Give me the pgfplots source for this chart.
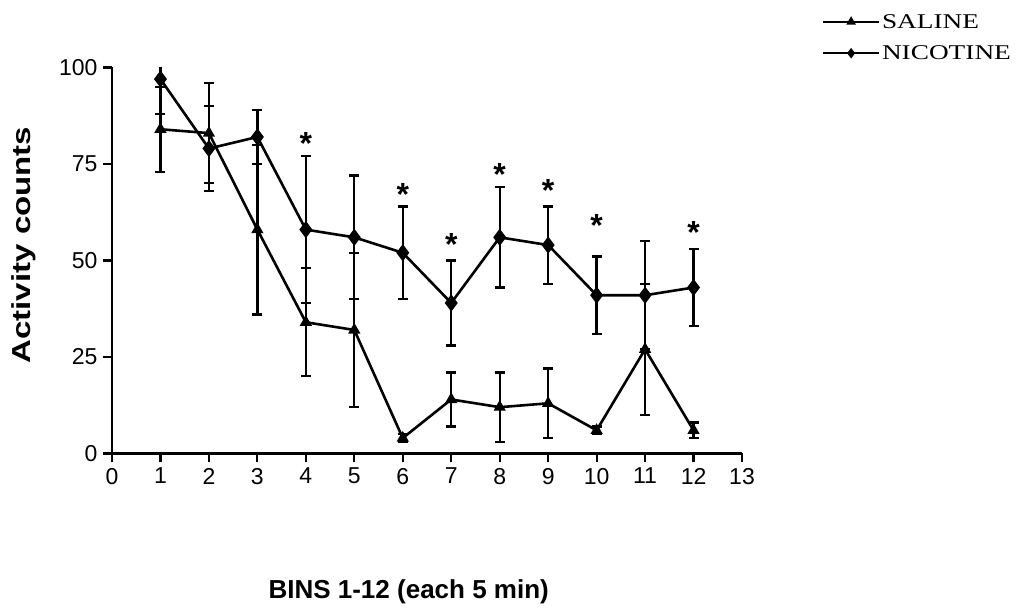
\documentclass[border=0pt]{standalone}
\usepackage{pgfplots}
\pgfplotsset{compat=1.18}
\usepackage{fontspec}
\setmainfont{Liberation Sans}
\newfontfamily\legendfont{Liberation Serif}

% activity counts per 5-min bin: mean and SEM
\pgfplotstableread{
x  y   e
1  84  11
2  83  13
3  58  22
4  34  14
5  32  20
6  4   1
7  14  7
8  12  9
9  13  9
10 6   1
11 27  17
12 6   2
}\saline
\pgfplotstableread{
x  y   e
1  97  9
2  79  11
3  82  7
4  58  19
5  56  16
6  52  12
7  39  11
8  56  13
9  54  10
10 41  10
11 41  14
12 43  10
}\nicotine
% significance markers
\pgfplotstableread{
x  y
4  82
6  69
7  56
8  74
9  70
10 61
12 59
}\stars

\begin{document}
\begin{tikzpicture}
\useasboundingbox (-112pt,-158.5pt) rectangle (924pt,453.5pt);
\begin{axis}[
  at={(0pt,0pt)}, anchor=south west,
  scale only axis, width=630pt, height=386pt,
  xmin=0, xmax=13, ymin=0, ymax=100,
  axis lines*=left,
  axis line style={line width=2.4pt},
  xtick={0,...,13}, ytick={0,25,50,75,100},
  tick align=outside, major tick length=9pt,
  tick style={line width=2.2pt, black},
  /pgf/number format/assume math mode=true,
  tick label style={font=\fontsize{23}{26}\selectfont},
  xticklabel style={yshift=-2pt},
  yticklabel style={xshift=-2pt},
  xlabel={BINS 1-12 (each 5 min)},
  ylabel={\scalebox{1.27}[1]{Activity counts}},
  label style={font=\bfseries\fontsize{26}{30}\selectfont},
  xlabel style={at={(axis description cs:0.471,-0.359)}, anchor=center},
  ylabel style={at={(axis description cs:-0.1397,0.54)}, anchor=center},
  legend style={at={(axis description cs:1.127,1.144)}, anchor=north west,
    draw=none, fill=none, inner sep=0pt, row sep=12pt,
    font=\legendfont\fontsize{21}{24}\selectfont,
    cells={anchor=west}},
  legend image code/.code={\draw[mark repeat=2,mark phase=2,#1,
      line width=1.8pt, mark size=3.8pt]
    plot coordinates {(0pt,0pt) (28pt,0pt) (56pt,0pt)};},
  every axis plot/.append style={line width=2.6pt, black},
  error bars/error bar style={line width=2.3pt, black},
  error bars/error mark options={rotate=90, line width=2.3pt, mark size=5pt, black},
]
\addplot[mark=triangle*, mark size=4.5pt, mark options={solid},
  error bars/.cd, y dir=both, y explicit]
  table[x=x, y=y, y error=e]{\saline};
\addlegendentry{\scalebox{1.3}[1]{SALINE}}
\addplot[mark=diamond*, mark size=6.5pt, mark options={solid},
  error bars/.cd, y dir=both, y explicit]
  table[x=x, y=y, y error=e]{\nicotine};
\addlegendentry{\scalebox{1.3}[1]{NICOTINE}}
\addplot[draw=none, mark=none, forget plot,
  nodes near coords={\bfseries *},
  every node near coord/.style={anchor=base, yshift=-18pt, inner sep=0pt,
    font=\fontsize{32}{32}\selectfont}]
  table[x=x, y=y]{\stars};
\end{axis}
\end{tikzpicture}
\end{document}
